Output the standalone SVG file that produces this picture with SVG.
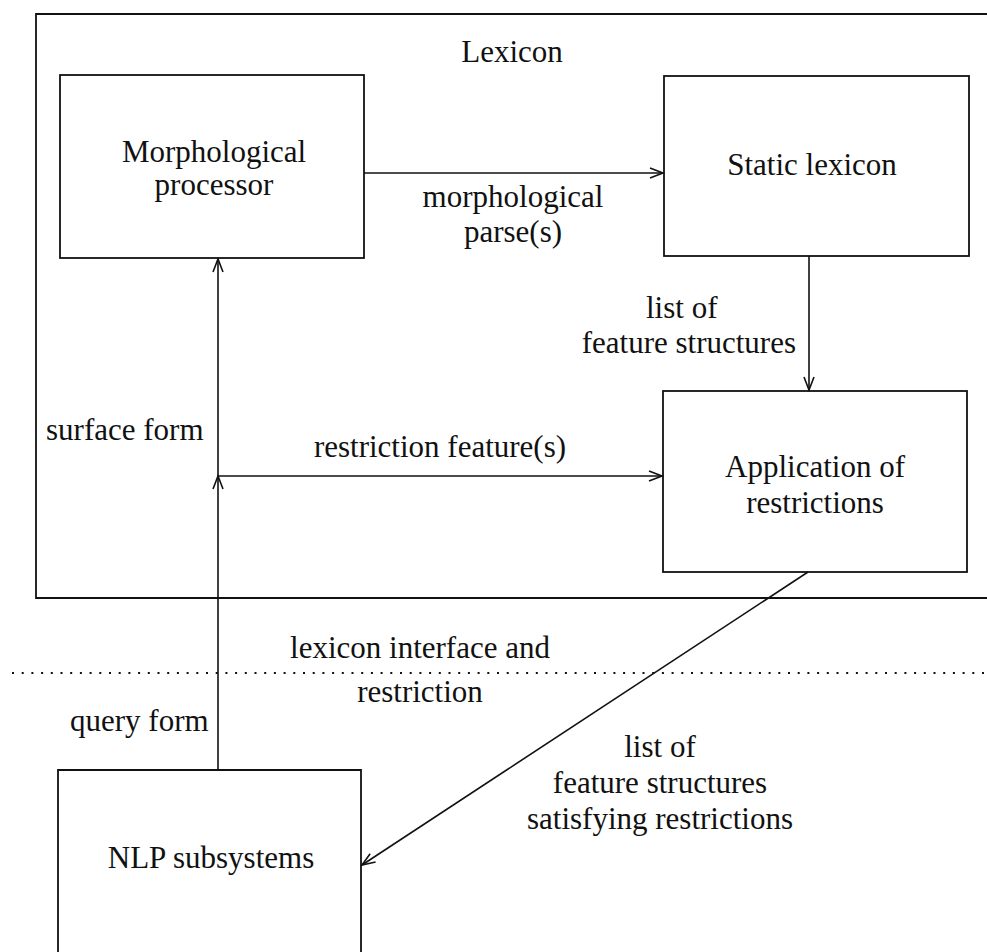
<svg xmlns="http://www.w3.org/2000/svg" width="987" height="952" viewBox="0 0 987 952">
<style>
text{font-family:"Liberation Serif","Times New Roman",serif;font-size:31px;fill:#111}
.box{fill:none;stroke:#111;stroke-width:1.8}
.ln{fill:none;stroke:#111;stroke-width:1.6}
.c{text-anchor:middle}
.e{text-anchor:end}
</style>
<defs>
<marker id="ah" markerUnits="userSpaceOnUse" markerWidth="18" markerHeight="14" refX="14" refY="6" orient="auto">
<path d="M1,1 L14,6 L1,11" fill="none" stroke="#111" stroke-width="1.6"/>
</marker>
</defs>
<rect width="987" height="952" fill="#fff"/>
<g id="lexicon">
<path class="box" d="M995,14 H36 V598 H995"/>
<text class="c" x="512" y="62">Lexicon</text>
</g>
<g id="morph">
<rect class="box" x="60" y="75" width="304" height="183"/>
<text class="c" x="214" y="162">Morphological</text>
<text class="c" x="214" y="195">processor</text>
</g>
<g id="static">
<rect class="box" x="664" y="76" width="305" height="180"/>
<text class="c" x="812" y="175">Static lexicon</text>
</g>
<g id="application">
<rect class="box" x="663" y="391" width="304" height="181"/>
<text class="c" x="815" y="477">Application of</text>
<text class="c" x="815" y="513">restrictions</text>
</g>
<g id="nlp">
<path class="box" d="M58,960 V770 H361 V960"/>
<text class="c" x="211" y="868">NLP subsystems</text>
</g>
<g id="connectors">
<line class="ln" x1="364" y1="173" x2="663" y2="173" marker-end="url(#ah)"/>
<line class="ln" x1="809" y1="256" x2="809" y2="390" marker-end="url(#ah)"/>
<line class="ln" x1="218" y1="770" x2="218" y2="476" marker-end="url(#ah)"/>
<line class="ln" x1="218" y1="476" x2="218" y2="259" marker-end="url(#ah)"/>
<line class="ln" x1="218" y1="476" x2="662" y2="476" marker-end="url(#ah)"/>
<line class="ln" x1="808" y1="572" x2="362" y2="865" marker-end="url(#ah)"/>
<line x1="12" y1="673" x2="987" y2="673" stroke="#111" stroke-width="2" stroke-dasharray="2 7.7"/>
</g>
<g id="labels">
<text class="c" x="513" y="207">morphological</text>
<text class="c" x="513" y="242">parse(s)</text>
<text x="646" y="318">list of</text>
<text class="e" x="796" y="353">feature structures</text>
<text x="46" y="440">surface form</text>
<text class="c" x="440" y="457">restriction feature(s)</text>
<text class="c" x="420" y="658">lexicon interface and</text>
<text class="c" x="420" y="702">restriction</text>
<text x="70" y="731">query form</text>
<text class="c" x="660" y="757">list of</text>
<text class="c" x="660" y="793">feature structures</text>
<text class="c" x="660" y="829">satisfying restrictions</text>
</g>
</svg>
